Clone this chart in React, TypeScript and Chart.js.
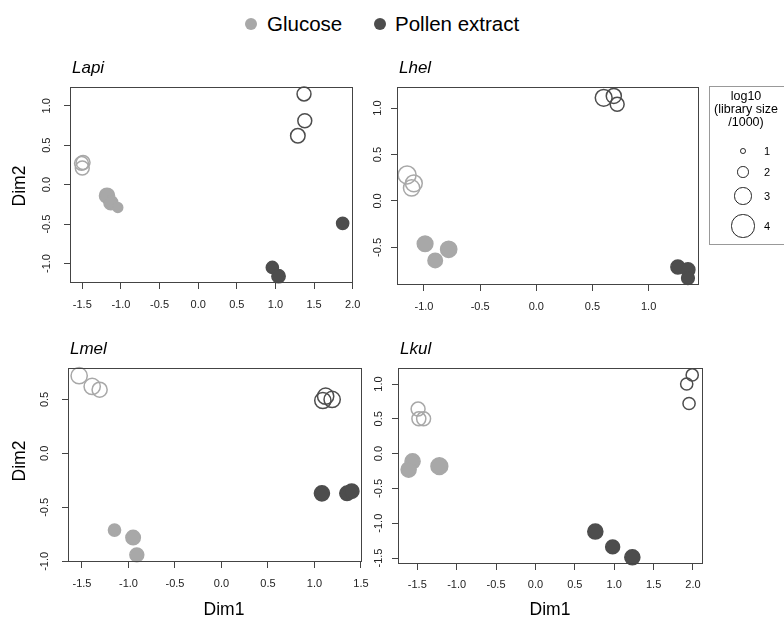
import React, { useEffect, useRef } from "react";
import { Chart, registerables } from "chart.js";

Chart.register(...registerables);

// ---------- data ----------
// sample order in every panel: Glucose (open x3), Glucose (filled x3), Pollen extract (open x3), Pollen extract (filled x3)
const conditions = ["Glucose", "Pollen extract"];
const sampleCondition = [0, 0, 0, 0, 0, 0, 1, 1, 1, 1, 1, 1];
const sampleFilled = [false, false, false, true, true, true, false, false, false, true, true, true];

const lapiDim1 = [-1.51, -1.49, -1.5, -1.18, -1.13, -1.04, 1.37, 1.38, 1.29, 0.96, 1.04, 1.87];
const lapiDim2 = [0.27, 0.28, 0.21, -0.14, -0.23, -0.29, 1.15, 0.81, 0.62, -1.05, -1.16, -0.49];
const lapiLibSize = [2.4, 2.4, 2.4, 2.6, 2.4, 1.7, 2.4, 2.4, 2.5, 2.1, 2.3, 2.1];

const lhelDim1 = [-1.15, -1.09, -1.11, -0.99, -0.9, -0.78, 0.6, 0.69, 0.72, 1.26, 1.35, 1.35];
const lhelDim2 = [0.28, 0.19, 0.14, -0.46, -0.64, -0.52, 1.11, 1.13, 1.04, -0.71, -0.74, -0.83];
const lhelLibSize = [3.1, 2.9, 2.8, 2.7, 2.5, 2.8, 2.9, 2.6, 2.4, 2.4, 2.4, 2.2];

const lmelDim1 = [-1.53, -1.39, -1.31, -1.15, -0.95, -0.91, 1.09, 1.12, 1.19, 1.08, 1.35, 1.4];
const lmelDim2 = [0.72, 0.62, 0.59, -0.71, -0.78, -0.94, 0.49, 0.53, 0.5, -0.37, -0.37, -0.35];
const lmelLibSize = [2.8, 2.8, 2.6, 2.1, 2.5, 2.4, 2.8, 2.8, 2.8, 2.6, 2.5, 2.5];

const lkulDim1 = [-1.49, -1.48, -1.42, -1.56, -1.61, -1.22, 1.99, 1.92, 1.95, 0.76, 0.98, 1.23];
const lkulDim2 = [0.64, 0.5, 0.5, -0.11, -0.23, -0.18, 1.13, 1.0, 0.72, -1.12, -1.34, -1.49];
const lkulLibSize = [2.4, 2.4, 2.4, 2.6, 2.6, 2.9, 2.1, 2.1, 2.1, 2.6, 2.4, 2.6];

const lapiXTicks = [-1.5, -1.0, -0.5, 0.0, 0.5, 1.0, 1.5, 2.0];
const lapiYTicks = [-1.0, -0.5, 0.0, 0.5, 1.0];
const lhelXTicks = [-1.0, -0.5, 0.0, 0.5, 1.0];
const lhelYTicks = [-0.5, 0.0, 0.5, 1.0];
const lmelXTicks = [-1.5, -1.0, -0.5, 0.0, 0.5, 1.0, 1.5];
const lmelYTicks = [-1.0, -0.5, 0.0, 0.5];
const lkulXTicks = [-1.5, -1.0, -0.5, 0.0, 0.5, 1.0, 1.5, 2.0];
const lkulYTicks = [-1.5, -1.0, -0.5, 0.0, 0.5, 1.0];

const sizeLegendValues = [1, 2, 3, 4];

// ---------- style ----------
const FONT = '"Liberation Sans", Arial, Helvetica, sans-serif';
const LIGHT = "#a8a8a8";
const DARK = "#4d4d4d";
const AXIS = "#444444";
const TEXT = "#222222";
const R_PER_SIZE = 2.9;

const PAD_L = 60;
const PAD_T = 10;
const PAD_R = 10;
const PAD_B = 40;

type PanelCfg = {
  title: string;
  dim1: number[];
  dim2: number[];
  size: number[];
  xTicks: number[];
  yTicks: number[];
  xMin: number;
  xMax: number;
  yMin: number;
  yMax: number;
  box: { l: number; t: number; r: number; b: number };
  xLabOff: number;
  yLabOff: number;
};

const panels: PanelCfg[] = [
  { title: "Lapi", dim1: lapiDim1, dim2: lapiDim2, size: lapiLibSize, xTicks: lapiXTicks, yTicks: lapiYTicks,
    xMin: -1.659, xMax: 2.004, yMin: -1.247, yMax: 1.238, box: { l: 70, t: 87, r: 353, b: 283 }, xLabOff: 22, yLabOff: 23 },
  { title: "Lhel", dim1: lhelDim1, dim2: lhelDim2, size: lhelLibSize, xTicks: lhelXTicks, yTicks: lhelYTicks,
    xMin: -1.24, xMax: 1.444, yMin: -0.904, yMax: 1.221, box: { l: 397, t: 87, r: 699, b: 285 }, xLabOff: 22, yLabOff: 19 },
  { title: "Lmel", dim1: lmelDim1, dim2: lmelDim2, size: lmelLibSize, xTicks: lmelXTicks, yTicks: lmelYTicks,
    xMin: -1.65, xMax: 1.511, yMin: -1.006, yMax: 0.791, box: { l: 68, t: 368, r: 362, b: 562 }, xLabOff: 22, yLabOff: 23 },
  { title: "Lkul", dim1: lkulDim1, dim2: lkulDim2, size: lkulLibSize, xTicks: lkulXTicks, yTicks: lkulYTicks,
    xMin: -1.745, xMax: 2.127, yMin: -1.586, yMax: 1.23, box: { l: 398, t: 368, r: 703, b: 564 }, xLabOff: 21, yLabOff: 19 },
];

function buildDatasets(p: PanelCfg) {
  const groups: { cond: number; filled: boolean }[] = [
    { cond: 0, filled: false },
    { cond: 0, filled: true },
    { cond: 1, filled: false },
    { cond: 1, filled: true },
  ];
  return groups.map((g) => {
    const idx = p.dim1.map((_, i) => i).filter((i) => sampleCondition[i] === g.cond && sampleFilled[i] === g.filled);
    const col = g.cond === 0 ? LIGHT : DARK;
    return {
      label: conditions[g.cond] + (g.filled ? " (filled)" : " (open)"),
      data: idx.map((i) => ({ x: p.dim1[i], y: p.dim2[i] })),
      pointRadius: idx.map((i) => p.size[i] * R_PER_SIZE),
      pointHoverRadius: idx.map((i) => p.size[i] * R_PER_SIZE),
      pointBorderWidth: 1.5,
      pointBackgroundColor: g.filled ? col : "rgba(0,0,0,0)",
      pointBorderColor: col,
      showLine: false,
      clip: false as any,
    };
  });
}

function Panel({ p }: { p: PanelCfg }) {
  const ref = useRef<HTMLCanvasElement>(null);
  const w = p.box.r - p.box.l + PAD_L + PAD_R;
  const h = p.box.b - p.box.t + PAD_T + PAD_B;
  useEffect(() => {
    const framePlugin = {
      id: "frameAndTickLabels",
      afterDraw(chart: any) {
        const { ctx, chartArea: a, scales } = chart;
        ctx.save();
        ctx.strokeStyle = AXIS;
        ctx.lineWidth = 1;
        const L = Math.round(a.left), T = Math.round(a.top), R = Math.round(a.right), B = Math.round(a.bottom);
        ctx.strokeRect(L + 0.5, T + 0.5, R - L - 1, B - T - 1);
        ctx.fillStyle = TEXT;
        ctx.font = `11px ${FONT}`;
        ctx.textAlign = "center";
        ctx.textBaseline = "middle";
        for (const v of p.xTicks) {
          ctx.fillText(v.toFixed(1), scales.x.getPixelForValue(v), B + p.xLabOff);
        }
        for (const v of p.yTicks) {
          const py = scales.y.getPixelForValue(v);
          ctx.save();
          ctx.translate(L - p.yLabOff, py);
          ctx.rotate(-Math.PI / 2);
          ctx.fillText(v.toFixed(1), 0, 0);
          ctx.restore();
        }
        ctx.restore();
      },
    };
    const chart = new Chart(ref.current!, {
      type: "scatter",
      data: { datasets: buildDatasets(p) as any },
      options: {
        responsive: false,
        maintainAspectRatio: false,
        animation: false,
        devicePixelRatio: 1,
        events: [],
        layout: { padding: { top: PAD_T, right: PAD_R, left: 0, bottom: 0 } },
        plugins: { legend: { display: false }, tooltip: { enabled: false }, title: { display: false } },
        scales: {
          x: {
            type: "linear",
            min: p.xMin,
            max: p.xMax,
            afterFit: (s: any) => { s.height = PAD_B; },
            afterBuildTicks: (s: any) => { s.ticks = p.xTicks.map((v) => ({ value: v })); },
            grid: { drawOnChartArea: false, drawTicks: true, tickLength: 6, color: AXIS, lineWidth: 1 },
            border: { display: false },
            ticks: { display: false },
          },
          y: {
            type: "linear",
            min: p.yMin,
            max: p.yMax,
            afterFit: (s: any) => { s.width = PAD_L; },
            afterBuildTicks: (s: any) => { s.ticks = p.yTicks.map((v) => ({ value: v })); },
            grid: { drawOnChartArea: false, drawTicks: true, tickLength: 6, color: AXIS, lineWidth: 1 },
            border: { display: false },
            ticks: { display: false },
          },
        },
      },
      plugins: [framePlugin],
    });
    return () => chart.destroy();
  }, []);
  return (
    <>
      <canvas
        ref={ref}
        width={w}
        height={h}
        style={{ position: "absolute", left: p.box.l - PAD_L, top: p.box.t - PAD_T, width: w, height: h }}
      />
      <div
        style={{
          position: "absolute",
          left: p.box.l + 2,
          top: p.box.t - 29,
          font: `italic 17px ${FONT}`,
          color: "#000",
          lineHeight: "20px",
          whiteSpace: "nowrap",
        }}
      >
        {p.title}
      </div>
    </>
  );
}

function AxisTitle({ text, cx, cy, rotate }: { text: string; cx: number; cy: number; rotate?: boolean }) {
  return (
    <div
      style={{
        position: "absolute",
        left: cx - 40,
        top: cy - 10,
        width: 80,
        height: 20,
        lineHeight: "20px",
        textAlign: "center",
        font: `17.5px ${FONT}`,
        color: "#000",
        transform: rotate ? "rotate(-90deg)" : undefined,
        whiteSpace: "nowrap",
      }}
    >
      {text}
    </div>
  );
}

export default function App() {
  return (
    <div
      style={{
        position: "fixed",
        left: 0,
        top: 0,
        width: 784,
        height: 619,
        background: "#fff",
        overflow: "hidden",
        fontFamily: FONT,
      }}
    >
      {/* condition legend */}
      <div style={{ position: "absolute", left: 245, top: 18, width: 12, height: 12, borderRadius: 6, background: LIGHT }} />
      <div style={{ position: "absolute", left: 267, top: 12, font: `20.5px ${FONT}`, lineHeight: "24px", color: "#000", whiteSpace: "nowrap" }}>
        {conditions[0]}
      </div>
      <div style={{ position: "absolute", left: 374, top: 18, width: 12, height: 12, borderRadius: 6, background: DARK }} />
      <div style={{ position: "absolute", left: 395, top: 12, font: `20.5px ${FONT}`, lineHeight: "24px", color: "#000", whiteSpace: "nowrap" }}>
        {conditions[1]}
      </div>

      {panels.map((p) => (
        <Panel key={p.title} p={p} />
      ))}

      <AxisTitle text="Dim2" cx={19} cy={186} rotate />
      <AxisTitle text="Dim2" cx={19} cy={461} rotate />
      <AxisTitle text="Dim1" cx={224} cy={609} />
      <AxisTitle text="Dim1" cx={550} cy={609} />

      {/* library size legend */}
      <div
        style={{
          position: "absolute",
          left: 709,
          top: 86,
          width: 100,
          height: 159,
          border: "1px solid #999",
          boxSizing: "border-box",
        }}
      />
      <div
        style={{
          position: "absolute",
          left: 696,
          top: 90,
          width: 100,
          textAlign: "center",
          font: `12.5px ${FONT}`,
          lineHeight: "12.8px",
          color: "#000",
          whiteSpace: "nowrap",
        }}
      >
        log10
        <br />
        (library size
        <br />
        /1000)
      </div>
      {sizeLegendValues.map((s, i) => {
        const cy = [151, 172, 196, 226][i];
        const r = s * R_PER_SIZE;
        return (
          <React.Fragment key={s}>
            <div
              style={{
                position: "absolute",
                left: 743 - r,
                top: cy - r,
                width: 2 * r,
                height: 2 * r,
                borderRadius: "50%",
                border: `1.2px solid ${TEXT}`,
                boxSizing: "border-box",
              }}
            />
            <div
              style={{
                position: "absolute",
                left: 762,
                top: cy - 7,
                width: 10,
                textAlign: "center",
                font: `11px ${FONT}`,
                lineHeight: "14px",
                color: "#000",
              }}
            >
              {s}
            </div>
          </React.Fragment>
        );
      })}
    </div>
  );
}
